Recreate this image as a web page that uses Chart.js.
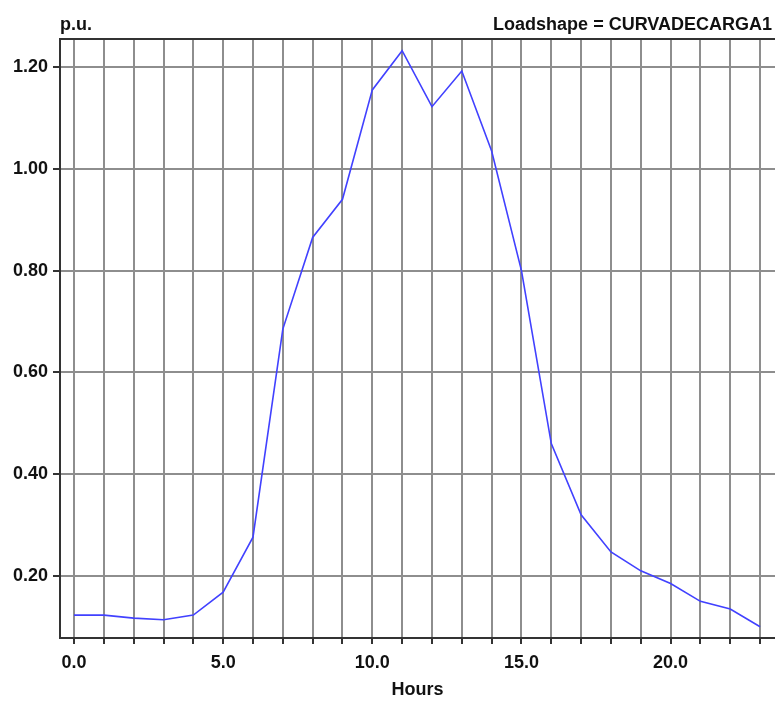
<!DOCTYPE html>
<html>
<head>
<meta charset="utf-8">
<script src="https://cdn.jsdelivr.net/npm/chart.js@4/dist/chart.umd.min.js"></script>
<style>
  html, body { margin: 0; padding: 0; background: #fff; }
  #wrap { position: relative; width: 775px; height: 701px; overflow: hidden; }
  #chart { position: absolute; left: 0; top: 0; }
  .hdr { position: absolute; top: 13px; font: bold 18px 'Liberation Sans', Arial, sans-serif; color: #111; line-height: 22px; white-space: nowrap; }
  #pu { left: 60px; }
  #ls { right: 3px; }
  #frameTop { position: absolute; left: 59px; top: 38px; width: 716px; height: 2px; background: #333; }
</style>
</head>
<body>
<div id="wrap">
  <canvas id="chart" width="775" height="701"></canvas>
  <div id="frameTop"></div>
  <div class="hdr" id="pu">p.u.</div>
  <div class="hdr" id="ls">Loadshape = CURVADECARGA1</div>
</div>
<script>
// hours of the day and the load multiplier
const hours = [0, 1, 2, 3, 4, 5, 6, 7, 8, 9, 10, 11, 12, 13, 14, 15, 16, 17, 18, 19, 20, 21, 22, 23];
const loadPU = [0.123, 0.123, 0.117, 0.114, 0.123, 0.168, 0.276, 0.685, 0.865, 0.94, 1.155, 1.232,
                1.122, 1.192, 1.035, 0.80, 0.46, 0.32, 0.247, 0.21, 0.185, 0.15, 0.135, 0.10];
const yTickValues = [0.2, 0.4, 0.6, 0.8, 1.0, 1.2];
const xLabelHours = [0, 5, 10, 15, 20];

const axisFont = { family: "'Liberation Sans', Arial, sans-serif", size: 18, weight: 'bold' };

new Chart(document.getElementById('chart').getContext('2d'), {
  type: 'line',
  data: {
    datasets: [{
      data: hours.map((h, i) => ({ x: h, y: loadPU[i] })),
      borderColor: '#4141ff',
      borderWidth: 1.6,
      pointRadius: 0,
      tension: 0,
      fill: false
    }]
  },
  options: {
    responsive: false,
    animation: false,
    layout: { padding: { top: 39, left: 0, right: 0, bottom: 0 } },
    plugins: { legend: { display: false }, tooltip: { enabled: false } },
    scales: {
      x: {
        type: 'linear',
        min: -0.47,
        max: 23.5,
        afterBuildTicks: s => { s.ticks = hours.map(v => ({ value: v })); },
        afterFit: s => { s.height = 63; },
        ticks: {
          autoSkip: false,
          maxRotation: 0,
          padding: 8,
          color: '#111',
          font: axisFont,
          callback: v => xLabelHours.includes(v) ? v.toFixed(1) : ''
        },
        grid: { color: '#8e8e8e', lineWidth: 2, tickLength: 6, tickColor: '#333' },
        border: { color: '#333', width: 2 },
        title: { display: true, text: 'Hours', color: '#111', font: axisFont, padding: 0 }
      },
      y: {
        min: 0.078,
        max: 1.255,
        afterBuildTicks: s => { s.ticks = yTickValues.map(v => ({ value: v })); },
        afterFit: s => { s.width = 60; },
        ticks: {
          padding: 5,
          color: '#111',
          font: axisFont,
          callback: v => v.toFixed(2)
        },
        grid: { color: '#8e8e8e', lineWidth: 2, tickLength: 7, tickColor: '#333' },
        border: { color: '#333', width: 2 }
      }
    }
  }
});
</script>
</body>
</html>
